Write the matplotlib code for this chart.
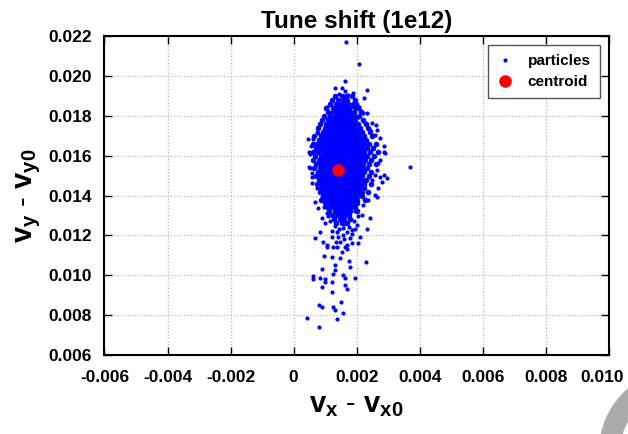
import numpy as np
import matplotlib
matplotlib.use('Agg')
import matplotlib.pyplot as plt
from matplotlib.patches import Wedge
from matplotlib.transforms import IdentityTransform, ScaledTranslation

# all tune values below are in units of 1e-3
# sparse particles around the core
edge_x = [1.65, 2.08, 1.64, 1.31, 1.52, 1.64, 2.33, 1.88, 1.73, 1.44, 2.23, 1.06, 1.87, 2.00, 2.07,
          1.21, 0.99, 2.21, 2.34, 2.10, 2.48, 2.61, 2.63, 2.74, 2.85, 2.90, 0.73, 0.44, 0.60, 0.89,
          0.52, 0.73, 0.50, 0.57, 0.83, 2.69, 2.63, 2.74, 2.48, 0.55, 0.50, 0.52, 0.57, 0.78, 1.15,
          2.58, 2.42, 2.26, 2.16, 2.05, 2.85, 2.74, 2.85, 2.58, 2.53, 3.68,
          0.57, 0.73, 0.68, 0.78, 0.89, 0.83, 0.68, 0.94, 1.05, 2.95, 2.79, 2.69, 2.58, 2.63, 2.42,
          2.34, 2.10, 2.16, 2.00, 1.84, 1.57, 1.37, 1.21, 1.47, 1.68, 1.79, 1.26, 2.05,
          1.05, 1.37, 1.52, 1.70, 1.63, 0.96, 1.21, 1.47, 1.77, 2.30, 1.31, 1.79, 0.91, 1.31, 1.26,
          1.57, 0.60, 0.60, 0.83, 0.99, 1.21, 0.99, 1.63, 1.95, 0.89, 1.63, 1.68, 1.21, 1.49, 0.80,
          0.91, 1.26, 1.31, 1.56, 0.41, 1.38, 0.81,
          1.05, 1.15, 1.30, 1.45, 1.60, 1.75, 1.90, 2.05, 1.95, 1.10, 1.20, 1.55, 1.40, 1.85, 2.20,
          2.35, 0.95, 0.90, 1.00, 1.70, 1.35, 1.60, 1.95, 1.85]
edge_y = [21.68, 20.60, 19.76, 19.41, 19.38, 19.26, 19.29, 19.14, 19.06, 19.11, 18.91, 18.42, 18.45, 18.57, 18.45,
          18.20, 17.95, 18.16, 18.16, 18.29, 17.65, 17.54, 17.29, 16.87, 16.48, 16.15, 17.20, 16.82, 16.82, 16.95,
          16.08, 16.62, 15.41, 14.94, 14.78, 15.62, 15.28, 14.94, 14.78, 16.48, 16.20, 15.37, 15.11, 17.12, 17.37,
          17.04, 17.29, 17.62, 18.20, 17.95, 16.20, 15.78, 15.03, 15.03, 16.37, 15.45,
          14.61, 14.36, 13.69, 13.36, 12.86, 12.19, 11.85, 11.68, 11.52, 14.86, 14.69, 14.36, 14.03, 13.94, 12.86,
          12.32, 11.93, 13.02, 12.52, 12.27, 12.36, 12.19, 11.93, 11.68, 11.52, 11.85, 11.43, 11.60,
          11.43, 11.43, 11.18, 11.32, 11.43, 10.98, 10.93, 10.85, 10.72, 10.68, 10.52, 10.43, 10.30, 10.27, 10.05,
          10.00, 9.96, 9.80, 9.85, 9.81, 9.68, 9.68, 9.85, 9.88, 9.43, 9.51, 9.30, 9.18, 8.68, 8.51,
          8.42, 8.42, 8.26, 8.09, 7.87, 7.81, 7.42,
          13.10, 12.70, 12.45, 12.30, 12.55, 12.40, 12.70, 12.95, 13.20, 12.95, 12.20, 12.00, 11.90, 12.05, 13.50,
          13.80, 13.40, 13.90, 12.60, 12.15, 11.65, 11.80, 12.30, 11.60]

# dense core, one row of x values per y level
core_levels = [19.0, 18.8, 18.6, 18.4, 18.2, 18.0, 17.8, 17.6, 17.4, 17.2, 17.0, 16.8, 16.6, 16.4,
               16.2, 16.0, 15.8, 15.6, 15.4, 15.2, 15.0, 14.8, 14.6, 14.4, 14.2, 14.0, 13.8, 13.6,
               13.4, 13.2, 13.0, 12.8, 12.6]
core_rows = [
    [1.32, 1.52, 1.66, 1.86],
    [1.22, 1.42, 1.56, 1.70, 1.95],
    [1.15, 1.34, 1.48, 1.60, 1.72, 1.88],
    [1.02, 1.24, 1.40, 1.52, 1.64, 1.76, 1.98],
    [1.10, 1.30, 1.42, 1.54, 1.66, 1.78, 1.92, 2.12],
    [0.96, 1.16, 1.30, 1.42, 1.54, 1.66, 1.78, 1.90, 2.06],
    [0.90, 1.10, 1.24, 1.36, 1.48, 1.60, 1.72, 1.84, 1.96, 2.20],
    [0.84, 1.04, 1.18, 1.30, 1.42, 1.54, 1.66, 1.78, 1.90, 2.04, 2.28],
    [0.78, 0.98, 1.12, 1.24, 1.36, 1.48, 1.60, 1.72, 1.84, 1.96, 2.10, 2.36],
    [0.92, 1.06, 1.18, 1.30, 1.42, 1.54, 1.66, 1.78, 1.90, 2.02, 2.16, 2.42],
    [0.66, 0.86, 1.00, 1.12, 1.24, 1.36, 1.48, 1.60, 1.72, 1.84, 1.96, 2.08, 2.24, 2.48],
    [0.80, 0.94, 1.06, 1.18, 1.30, 1.42, 1.54, 1.66, 1.78, 1.90, 2.02, 2.14, 2.30],
    [0.62, 0.76, 0.90, 1.02, 1.14, 1.26, 1.38, 1.50, 1.62, 1.74, 1.86, 1.98, 2.10, 2.22, 2.40, 2.62],
    [0.70, 0.86, 0.98, 1.10, 1.22, 1.34, 1.46, 1.58, 1.70, 1.82, 1.94, 2.06, 2.18, 2.32, 2.52],
    [0.60, 0.78, 0.92, 1.04, 1.16, 1.28, 1.40, 1.52, 1.64, 1.76, 1.88, 2.00, 2.12, 2.24, 2.42, 2.66],
    [0.68, 0.86, 0.98, 1.10, 1.22, 1.34, 1.46, 1.58, 1.70, 1.82, 1.94, 2.06, 2.18, 2.34, 2.56],
    [0.62, 0.80, 0.92, 1.04, 1.16, 1.28, 1.40, 1.52, 1.64, 1.76, 1.88, 2.00, 2.12, 2.26, 2.46],
    [0.72, 0.88, 1.00, 1.12, 1.24, 1.36, 1.48, 1.60, 1.72, 1.84, 1.96, 2.08, 2.20, 2.38, 2.60],
    [0.66, 0.84, 0.96, 1.08, 1.20, 1.32, 1.44, 1.56, 1.68, 1.80, 1.92, 2.04, 2.16, 2.32],
    [0.76, 0.90, 1.02, 1.14, 1.26, 1.38, 1.50, 1.62, 1.74, 1.86, 1.98, 2.10, 2.24, 2.44],
    [0.70, 0.86, 0.98, 1.10, 1.22, 1.34, 1.46, 1.58, 1.70, 1.82, 1.94, 2.06, 2.18, 2.38],
    [0.80, 0.94, 1.06, 1.18, 1.30, 1.42, 1.54, 1.66, 1.78, 1.90, 2.02, 2.14, 2.30],
    [0.74, 0.90, 1.02, 1.14, 1.26, 1.38, 1.50, 1.62, 1.74, 1.86, 1.98, 2.10, 2.24, 2.46],
    [0.86, 1.00, 1.12, 1.24, 1.36, 1.48, 1.60, 1.72, 1.84, 1.96, 2.08, 2.22],
    [0.82, 0.96, 1.08, 1.20, 1.32, 1.44, 1.56, 1.68, 1.80, 1.92, 2.04, 2.16, 2.36],
    [0.92, 1.06, 1.18, 1.30, 1.42, 1.54, 1.66, 1.78, 1.90, 2.02, 2.18],
    [0.88, 1.02, 1.16, 1.28, 1.40, 1.52, 1.64, 1.76, 1.88, 2.00, 2.26],
    [1.00, 1.14, 1.26, 1.38, 1.50, 1.62, 1.74, 1.86, 2.02],
    [1.06, 1.22, 1.34, 1.46, 1.58, 1.70, 1.82, 1.96],
    [1.12, 1.30, 1.42, 1.54, 1.66, 1.78, 2.00],
    [1.20, 1.38, 1.50, 1.62, 1.76],
    [1.28, 1.46, 1.60, 1.80],
    [1.34, 1.54, 1.70],
]

centroid_x = [1.41]
centroid_y = [15.28]

xticks = [-0.006, -0.004, -0.002, 0, 0.002, 0.004, 0.006, 0.008, 0.010]
xtick_labels = ['-0.006', '-0.004', '-0.002', '0', '0.002', '0.004', '0.006', '0.008', '0.010']
yticks = [0.006, 0.008, 0.010, 0.012, 0.014, 0.016, 0.018, 0.020, 0.022]
ytick_labels = ['0.006', '0.008', '0.010', '0.012', '0.014', '0.016', '0.018', '0.020', '0.022']

plt.rcParams['font.family'] = ['Liberation Sans', 'DejaVu Sans']
plt.rcParams['font.weight'] = 'bold'
plt.rcParams['mathtext.fontset'] = 'custom'
plt.rcParams['mathtext.rm'] = 'Liberation Sans:bold'
plt.rcParams['mathtext.it'] = 'Liberation Sans:bold'
plt.rcParams['mathtext.bf'] = 'Liberation Sans:bold'

if __name__ == "__main__":
    fig = plt.figure(figsize=(6.28, 4.34), dpi=100)
    ax = fig.add_axes([0.1664, 0.182, 0.8033, 0.735])

    cx = []
    cy = []
    for lev, row in zip(core_levels, core_rows):
        cx += row
        cy += [lev] * len(row)
    cx = np.array(cx) * 1e-3
    cy = np.array(cy) * 1e-3

    ax.plot(np.array(edge_x) * 1e-3, np.array(edge_y) * 1e-3, ls='none', marker='o', ms=3.0, mew=0,
            color='#0000ff', label='particles')
    ax.plot(cx, cy, ls='none', marker='o', ms=3.3, mew=0.7, color='#0000ff')
    ax.plot(np.array(centroid_x) * 1e-3, np.array(centroid_y) * 1e-3, ls='none', marker='o',
            ms=9, mew=0, color='#ff0000', label='centroid')

    ax.set_xlim(-0.006, 0.010)
    ax.set_ylim(0.006, 0.022)
    ax.set_xticks(xticks)
    ax.set_xticklabels(xtick_labels)
    ax.set_yticks(yticks)
    ax.set_yticklabels(ytick_labels)
    ax.tick_params(direction='in', length=6, width=1, top=True, right=True, labelsize=12.5)
    ax.tick_params(axis='x', pad=11)
    ax.tick_params(axis='y', pad=9)
    # last x label sits a little left, like the original
    lab = ax.get_xticklabels()[-1]
    lab.set_transform(lab.get_transform() + ScaledTranslation(-5 / 72, 0, fig.dpi_scale_trans))
    ax.grid(True, color='#b8b8b8', ls=':', lw=0.9)
    ax.set_axisbelow(True)
    for s in ax.spines.values():
        s.set_linewidth(1.5)

    ax.set_title('Tune shift (1e12)', fontsize=17.5, fontweight='bold', pad=6)
    ax.set_xlabel(r'$\mathbf{v_x}$ - $\mathbf{v_{x0}}$', fontsize=21, labelpad=4)
    ax.set_ylabel(r'$\mathbf{v_y}$ - $\mathbf{v_{y0}}$', fontsize=21, labelpad=4)

    leg = ax.legend(loc='upper right', fontsize=11, frameon=True, fancybox=False,
                    edgecolor='#555555', framealpha=1, borderaxespad=0.6,
                    handlelength=1.0, handletextpad=1.0, borderpad=0.6, labelspacing=0.45)
    leg.get_frame().set_linewidth(1.0)

    # grey ring in the bottom right corner of the slide
    ring = Wedge((680, -16), 80, 0, 360, width=20, color='#aaaaaa', transform=IdentityTransform())
    fig.add_artist(ring)

    fig.savefig('out.png', dpi=100)
